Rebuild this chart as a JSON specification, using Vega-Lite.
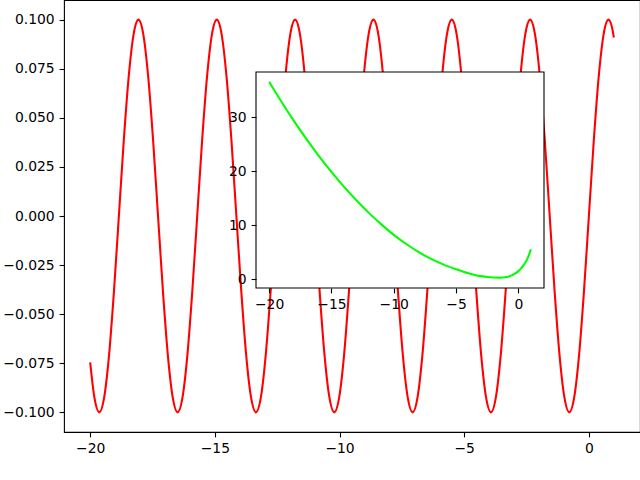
{
  "$schema": "https://vega.github.io/schema/vega-lite/v6.json",
  "width": 576,
  "height": 432,
  "autosize": {"type": "none"},
  "padding": {"left": 64, "top": 0, "right": 0, "bottom": 48},
  "background": "white",
  "config": {
    "view": {"stroke": "black", "strokeWidth": 1.1},
    "axis": {
      "domain": false,
      "grid": false,
      "tickColor": "black",
      "tickWidth": 1.1,
      "tickSize": 4.9,
      "labelColor": "black",
      "labelFont": "DejaVu Sans",
      "labelFontSize": 13.9,
      "labelPadding": 4.9,
      "title": null
    }
  },
  "datasets": {
    "main": [
      {"x": -20, "y": -0.07451},
      {"x": -19.8313, "y": -0.09239},
      {"x": -19.635, "y": -0.1},
      {"x": -19.4386, "y": -0.09239},
      {"x": -19.2423, "y": -0.07071},
      {"x": -19.0459, "y": -0.03827},
      {"x": -18.8496, "y": 0},
      {"x": -18.6532, "y": 0.03827},
      {"x": -18.4569, "y": 0.07071},
      {"x": -18.2605, "y": 0.09239},
      {"x": -18.0642, "y": 0.1},
      {"x": -17.8678, "y": 0.09239},
      {"x": -17.6715, "y": 0.07071},
      {"x": -17.4751, "y": 0.03827},
      {"x": -17.2788, "y": 0},
      {"x": -17.0824, "y": -0.03827},
      {"x": -16.8861, "y": -0.07071},
      {"x": -16.6897, "y": -0.09239},
      {"x": -16.4934, "y": -0.1},
      {"x": -16.297, "y": -0.09239},
      {"x": -16.1007, "y": -0.07071},
      {"x": -15.9043, "y": -0.03827},
      {"x": -15.708, "y": 0},
      {"x": -15.5116, "y": 0.03827},
      {"x": -15.3153, "y": 0.07071},
      {"x": -15.1189, "y": 0.09239},
      {"x": -14.9226, "y": 0.1},
      {"x": -14.7262, "y": 0.09239},
      {"x": -14.5299, "y": 0.07071},
      {"x": -14.3335, "y": 0.03827},
      {"x": -14.1372, "y": 0},
      {"x": -13.9408, "y": -0.03827},
      {"x": -13.7445, "y": -0.07071},
      {"x": -13.5481, "y": -0.09239},
      {"x": -13.3518, "y": -0.1},
      {"x": -13.1554, "y": -0.09239},
      {"x": -12.9591, "y": -0.07071},
      {"x": -12.7627, "y": -0.03827},
      {"x": -12.5664, "y": 0},
      {"x": -12.37, "y": 0.03827},
      {"x": -12.1737, "y": 0.07071},
      {"x": -11.9773, "y": 0.09239},
      {"x": -11.781, "y": 0.1},
      {"x": -11.5846, "y": 0.09239},
      {"x": -11.3883, "y": 0.07071},
      {"x": -11.1919, "y": 0.03827},
      {"x": -10.9956, "y": 0},
      {"x": -10.7992, "y": -0.03827},
      {"x": -10.6029, "y": -0.07071},
      {"x": -10.4065, "y": -0.09239},
      {"x": -10.2102, "y": -0.1},
      {"x": -10.0138, "y": -0.09239},
      {"x": -9.8175, "y": -0.07071},
      {"x": -9.6211, "y": -0.03827},
      {"x": -9.4248, "y": 0},
      {"x": -9.2284, "y": 0.03827},
      {"x": -9.0321, "y": 0.07071},
      {"x": -8.8357, "y": 0.09239},
      {"x": -8.6394, "y": 0.1},
      {"x": -8.443, "y": 0.09239},
      {"x": -8.2467, "y": 0.07071},
      {"x": -8.0503, "y": 0.03827},
      {"x": -7.854, "y": 0},
      {"x": -7.6576, "y": -0.03827},
      {"x": -7.4613, "y": -0.07071},
      {"x": -7.2649, "y": -0.09239},
      {"x": -7.0686, "y": -0.1},
      {"x": -6.8722, "y": -0.09239},
      {"x": -6.6759, "y": -0.07071},
      {"x": -6.4795, "y": -0.03827},
      {"x": -6.2832, "y": 0},
      {"x": -6.0868, "y": 0.03827},
      {"x": -5.8905, "y": 0.07071},
      {"x": -5.6941, "y": 0.09239},
      {"x": -5.4978, "y": 0.1},
      {"x": -5.3014, "y": 0.09239},
      {"x": -5.1051, "y": 0.07071},
      {"x": -4.9087, "y": 0.03827},
      {"x": -4.7124, "y": 0},
      {"x": -4.516, "y": -0.03827},
      {"x": -4.3197, "y": -0.07071},
      {"x": -4.1233, "y": -0.09239},
      {"x": -3.927, "y": -0.1},
      {"x": -3.7306, "y": -0.09239},
      {"x": -3.5343, "y": -0.07071},
      {"x": -3.3379, "y": -0.03827},
      {"x": -3.1416, "y": 0},
      {"x": -2.9452, "y": 0.03827},
      {"x": -2.7489, "y": 0.07071},
      {"x": -2.5525, "y": 0.09239},
      {"x": -2.3562, "y": 0.1},
      {"x": -2.1598, "y": 0.09239},
      {"x": -1.9635, "y": 0.07071},
      {"x": -1.7671, "y": 0.03827},
      {"x": -1.5708, "y": 0},
      {"x": -1.3744, "y": -0.03827},
      {"x": -1.1781, "y": -0.07071},
      {"x": -0.9817, "y": -0.09239},
      {"x": -0.7854, "y": -0.1},
      {"x": -0.589, "y": -0.09239},
      {"x": -0.3927, "y": -0.07071},
      {"x": -0.1963, "y": -0.03827},
      {"x": 0, "y": 0},
      {"x": 0.1963, "y": 0.03827},
      {"x": 0.3927, "y": 0.07071},
      {"x": 0.589, "y": 0.09239},
      {"x": 0.7854, "y": 0.1},
      {"x": 0.9817, "y": 0.09239},
      {"x": 1, "y": 0.09093}
    ],
    "inset": [
      {"x": -20, "y": 36.5},
      {"x": -19, "y": 32.78},
      {"x": -18, "y": 29.25},
      {"x": -17, "y": 25.93},
      {"x": -16, "y": 22.8},
      {"x": -15, "y": 19.88},
      {"x": -14, "y": 17.15},
      {"x": -13, "y": 14.63},
      {"x": -12, "y": 12.3},
      {"x": -11, "y": 10.18},
      {"x": -10, "y": 8.25},
      {"x": -9, "y": 6.55},
      {"x": -8, "y": 5.05},
      {"x": -7, "y": 3.8},
      {"x": -6, "y": 2.75},
      {"x": -5, "y": 1.9},
      {"x": -4, "y": 1.15},
      {"x": -3.5, "y": 0.85},
      {"x": -3, "y": 0.62},
      {"x": -2.5, "y": 0.45},
      {"x": -2, "y": 0.36},
      {"x": -1.5, "y": 0.35},
      {"x": -1, "y": 0.45},
      {"x": -0.75, "y": 0.57},
      {"x": -0.5, "y": 0.8},
      {"x": -0.25, "y": 1.12},
      {"x": 0, "y": 1.55},
      {"x": 0.25, "y": 2.15},
      {"x": 0.5, "y": 2.9},
      {"x": 0.75, "y": 4.0},
      {"x": 1, "y": 5.55}
    ]
  },
  "layer": [
    {
      "data": {"name": "main"},
      "mark": {"type": "line", "color": "#ff0000", "strokeWidth": 2.08, "interpolate": "monotone"},
      "encoding": {
        "x": {
          "field": "x", "type": "quantitative",
          "scale": {"domain": [-21.05, 2.05], "nice": false, "zero": false},
          "axis": {"orient": "bottom", "values": [-20, -15, -10, -5, 0]}
        },
        "y": {
          "field": "y", "type": "quantitative",
          "scale": {"domain": [-0.11, 0.11], "nice": false, "zero": false},
          "axis": {"orient": "left", "values": [-0.1, -0.075, -0.05, -0.025, 0, 0.025, 0.05, 0.075, 0.1], "format": ".3f"}
        }
      }
    },
    {
      "layer": [
        {
          "data": {"values": [{}]},
          "mark": {"type": "rect", "fill": "white", "stroke": "black", "strokeWidth": 1.1},
          "encoding": {
            "x": {
              "datum": -21.05, "type": "quantitative",
              "scale": {"domain": [-21.05, 2.05], "range": [192, 480], "nice": false, "zero": false},
              "axis": {"orient": "bottom", "offset": -144, "values": [-20, -15, -10, -5, 0], "zindex": 2}
            },
            "x2": {"datum": 2.05},
            "y": {
              "datum": -1.57, "type": "quantitative",
              "scale": {"domain": [-1.57, 38.31], "range": [288, 72], "nice": false, "zero": false},
              "axis": {"orient": "left", "offset": -192, "values": [0, 10, 20, 30], "zindex": 2}
            },
            "y2": {"datum": 38.31}
          }
        },
        {
          "data": {"name": "inset"},
          "mark": {"type": "line", "color": "#00ff00", "strokeWidth": 2.08, "interpolate": "monotone"},
          "encoding": {
            "x": {"field": "x", "type": "quantitative"},
            "y": {"field": "y", "type": "quantitative"}
          }
        }
      ]
    }
  ],
  "resolve": {
    "scale": {"x": "independent", "y": "independent"},
    "axis": {"x": "independent", "y": "independent"}
  }
}
